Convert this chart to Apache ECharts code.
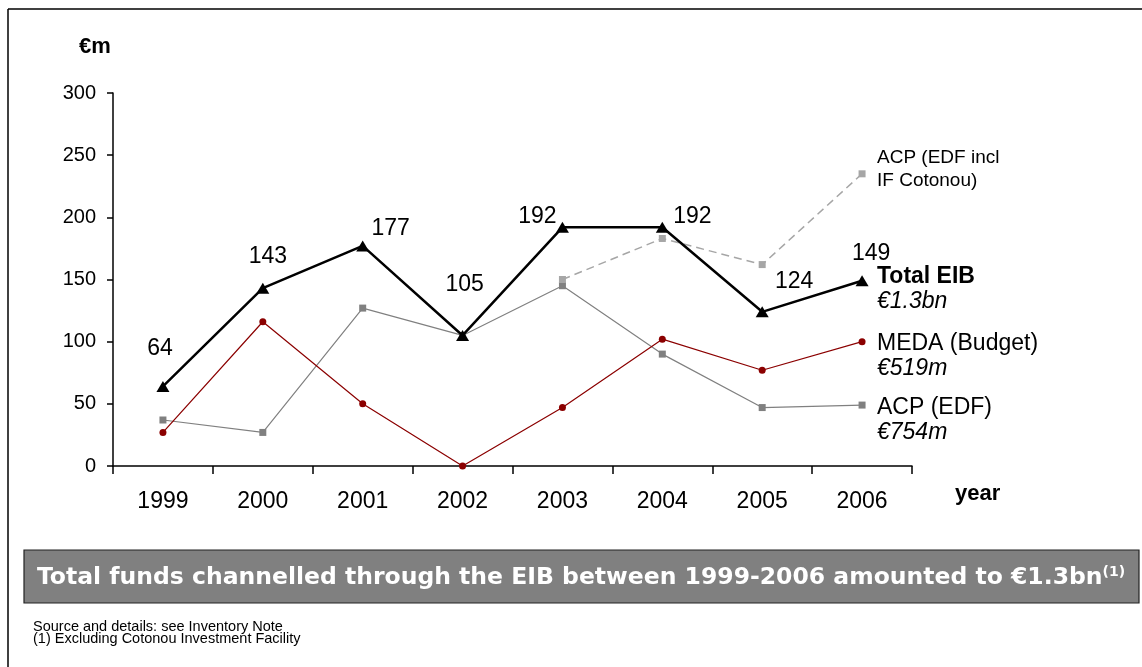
<!DOCTYPE html>
<html>
<head>
<meta charset="utf-8">
<script src="https://cdn.jsdelivr.net/npm/echarts@6/dist/echarts.min.js"></script>
<style>
html,body{margin:0;padding:0;background:#fff;}
#chart{width:1142px;height:667px;}
</style>
</head>
<body>
<div id="chart"></div>
<script>
const years = ['1999','2000','2001','2002','2003','2004','2005','2006'];
const totalEIB = [64, 143, 177, 105, 192, 192, 124, 149];
const meda = [27, 116, 50, 0, 47, 102, 77, 100];
const acpEDF = [37, 27, 127, 105, 145, 90, 47, 49];
const acpInclCotonou = [null, null, null, null, 150, 183, 162, 235];
const yTicks = [0, 50, 100, 150, 200, 250, 300];
// per-point label offsets for Total EIB values
const totalLabelOffsets = [[-3,-16],[5,-10],[28,5],[2,-29],[-25,11],[30,11],[32,-8],[9,-5]];

const FONT = '"Liberation Sans", Arial, sans-serif';
const VFONT = '"DejaVu Sans", Verdana, sans-serif';
const chart = echarts.init(document.getElementById('chart'), null, {renderer:'canvas'});

const totalData = totalEIB.map((v,i)=>({
  value: v,
  label: {offset: totalLabelOffsets[i]}
}));

chart.setOption({
  animation: false,
  backgroundColor: '#fff',
  grid: {left: 113, right: 230, top: 93, bottom: 201, containLabel: false},
  xAxis: {
    type: 'category',
    data: years,
    boundaryGap: true,
    axisLine: {lineStyle: {color: '#000', width: 1.5}},
    axisTick: {show: true, interval: 0, length: 8, lineStyle: {color: '#000', width: 1.5}},
    axisLabel: {color: '#000', fontFamily: FONT, fontSize: 23, margin: 24, interval: 0},
    splitLine: {show: false}
  },
  yAxis: {
    type: 'value',
    min: 0, max: 300, interval: 50,
    axisLine: {show: true, lineStyle: {color: '#000', width: 1.5}},
    axisTick: {show: true, length: 6, lineStyle: {color: '#000', width: 1.5}},
    axisLabel: {color: '#000', fontFamily: FONT, fontSize: 20, margin: 17,
      formatter: v => yTicks.indexOf(v) >= 0 ? String(v) : ''},
    splitLine: {show: false}
  },
  series: [
    {
      name: 'ACP (EDF)', type: 'line', data: acpEDF,
      symbol: 'rect', symbolSize: 7,
      lineStyle: {color: '#808080', width: 1.2},
      itemStyle: {color: '#808080'},
      z: 2
    },
    {
      name: 'ACP (EDF incl IF Cotonou)', type: 'line', data: acpInclCotonou,
      symbol: 'rect', symbolSize: 7, connectNulls: false,
      lineStyle: {color: '#a6a6a6', width: 1.5, type: [8, 5]},
      itemStyle: {color: '#a6a6a6'},
      z: 3
    },
    {
      name: 'MEDA (Budget)', type: 'line', data: meda,
      symbol: 'circle', symbolSize: 7,
      lineStyle: {color: '#8b0000', width: 1.2},
      itemStyle: {color: '#8b0000'},
      z: 4
    },
    {
      name: 'Total EIB', type: 'line', data: totalData,
      symbol: 'triangle', symbolSize: [13, 11],
      lineStyle: {color: '#000', width: 2.5},
      itemStyle: {color: '#000'},
      label: {show: true, position: 'top', distance: 5, color: '#000', fontFamily: FONT, fontSize: 23},
      z: 5
    }
  ],
  graphic: [
    // outer frame
    {type: 'line', shape: {x1: 8, y1: 9, x2: 1142, y2: 9}, style: {stroke: '#000', lineWidth: 1.5}, silent: true},
    {type: 'line', shape: {x1: 8, y1: 9, x2: 8, y2: 667}, style: {stroke: '#000', lineWidth: 1.5}, silent: true},
    // axis titles
    {type: 'text', left: 79, top: 36, style: {text: '€m', font: 'bold 22px ' + FONT, fill: '#000'}},
    {type: 'text', left: 955, top: 483, style: {text: 'year', font: 'bold 22px ' + FONT, fill: '#000'}},
    // series labels
    {type: 'text', left: 877, top: 146, style: {text: 'ACP (EDF incl\nIF Cotonou)', font: '19px ' + FONT, fill: '#000', lineHeight: 23}},
    {type: 'text', left: 877, top: 265, style: {text: 'Total EIB', font: 'bold 23px ' + FONT, fill: '#000'}},
    {type: 'text', left: 877, top: 290, style: {text: '€1.3bn', font: 'italic 23px ' + FONT, fill: '#000'}},
    {type: 'text', left: 877, top: 332, style: {text: 'MEDA (Budget)', font: '23px ' + FONT, fill: '#000'}},
    {type: 'text', left: 877, top: 357, style: {text: '€519m', font: 'italic 23px ' + FONT, fill: '#000'}},
    {type: 'text', left: 877, top: 396, style: {text: 'ACP (EDF)', font: '23px ' + FONT, fill: '#000'}},
    {type: 'text', left: 877, top: 421, style: {text: '€754m', font: 'italic 23px ' + FONT, fill: '#000'}},
    // banner
    {type: 'rect', shape: {x: 24, y: 550, width: 1115, height: 53}, style: {fill: '#808080', stroke: '#222', lineWidth: 1.2}},
    {type: 'text', x: 581, y: 578, style: {
      text: '{m|Total funds channelled through the EIB between 1999-2006 amounted to €1.3bn}{s|(1)}',
      align: 'center', verticalAlign: 'middle', fill: '#fff',
      rich: {
        m: {fontSize: 23.5, fontWeight: 'bold', fontFamily: VFONT, fill: '#fff'},
        s: {fontSize: 14, fontWeight: 'bold', fontFamily: VFONT, fill: '#fff', verticalAlign: 'top', padding: [0,0,12,0]}
      }
    }},
    // footnotes
    {type: 'text', left: 33, top: 619, style: {text: 'Source and details: see Inventory Note\n(1) Excluding Cotonou Investment Facility', font: '14.5px ' + FONT, fill: '#000', lineHeight: 12}}
  ]
});
</script>
</body>
</html>
